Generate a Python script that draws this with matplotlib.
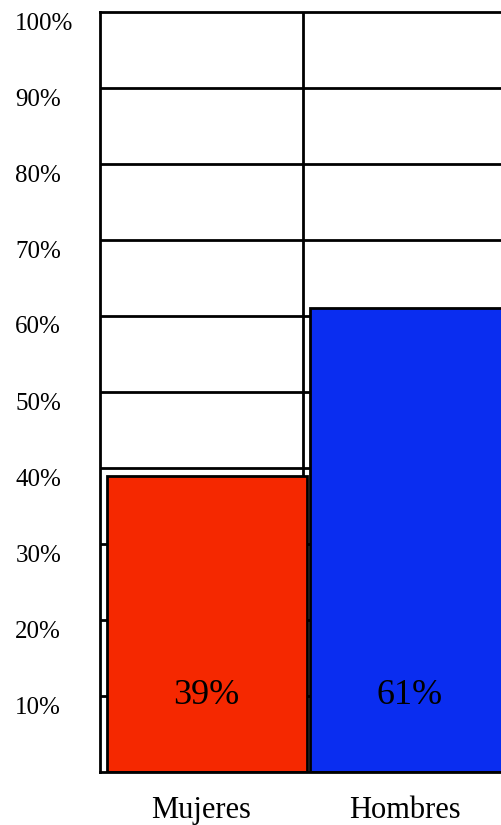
import matplotlib
matplotlib.use("Agg")
import matplotlib.pyplot as plt
import matplotlib.transforms as mtransforms

plt.rcParams["font.family"] = ["Liberation Serif", "DejaVu Serif"]

# === DATA ===
categories = ["Mujeres", "Hombres"]
shares = [39, 61]
bar_colors = ["#F52800", "#0A2DF0"]
yticks = [10, 20, 30, 40, 50, 60, 70, 80, 90, 100]
ytick_labels = [f"{v}%" for v in yticks]

LW = 2.0

fig = plt.figure(figsize=(5.02, 8.25), dpi=100)
ax = fig.add_axes([100 / 502, 53 / 825, 406 / 502, 760 / 825])

pos = [i + 0.525 for i in range(len(categories))]
ax.bar(pos, shares, width=0.985, color=bar_colors,
       edgecolor="black", linewidth=LW, zorder=2)

# value labels sit on the 10% line
for x, v in zip(pos, shares):
    ax.text(x, 10, f"{v}%", ha="center", va="center", fontsize=26, zorder=3)

ax.set_xlim(0, 2)
ax.set_ylim(0, 100)

ax.set_yticks(yticks)
ax.set_yticklabels(ytick_labels, fontsize=18)
ax.tick_params(axis="y", length=0, pad=61)
shift = mtransforms.ScaledTranslation(0, -9 / 100, fig.dpi_scale_trans)
for lab in ax.get_yticklabels():
    lab.set_horizontalalignment("left")
    lab.set_transform(lab.get_transform() + shift)

ax.set_xticks([0.5, 1.5])
ax.set_xticklabels(categories, fontsize=22)
ax.tick_params(axis="x", length=0, pad=17)

# category divider and horizontal grid
ax.axvline(1, color="black", linewidth=LW, zorder=1)
for v in yticks[:-1]:
    ax.axhline(v, color="black", linewidth=LW, zorder=1)

for side in ["left", "top", "bottom"]:
    ax.spines[side].set_linewidth(LW)
    ax.spines[side].set_zorder(4)
ax.spines["right"].set_visible(False)

fig.savefig("out.png", dpi=100)
